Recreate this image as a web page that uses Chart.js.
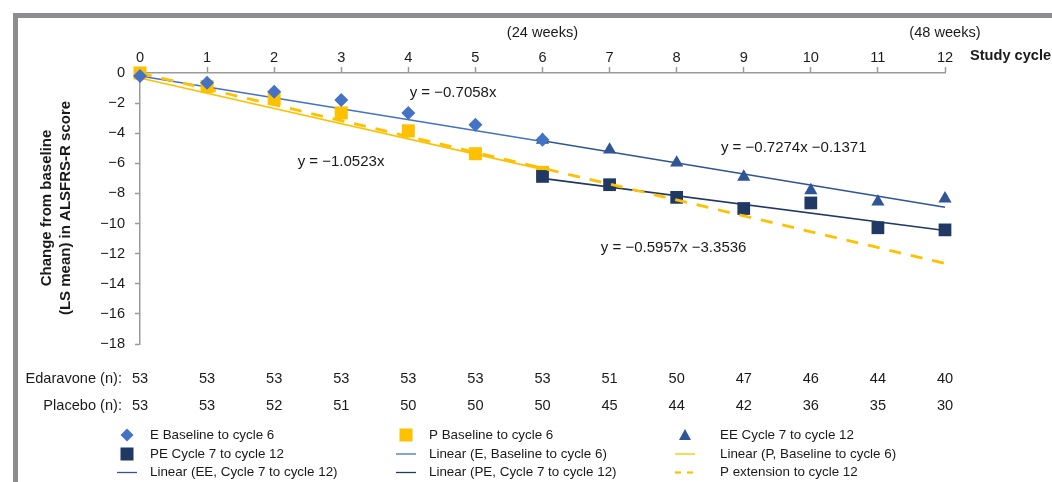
<!DOCTYPE html>
<html lang="en">
<head>
<meta charset="UTF-8">
<title>ALSFRS-R change from baseline</title>
<script src="https://cdn.jsdelivr.net/npm/chart.js"></script>
<style>
  body { margin: 0; background: #fff; }
  #wrap { position: relative; width: 1052px; height: 482px; overflow: hidden; }
  #frame { position: absolute; left: 13px; top: 13px; width: 1100px; height: 520px;
           border-top: 5px solid #8d8d91; border-left: 5px solid #8d8d91; }
  canvas { position: absolute; left: 0; top: 0; }
</style>
</head>
<body>
<div id="wrap">
  <div id="frame"></div>
  <canvas id="myChart" width="1052" height="482"></canvas>
</div>
<script>
// study cycles
const cycles = [0, 1, 2, 3, 4, 5, 6, 7, 8, 9, 10, 11, 12];
const firstHalf = [0, 1, 2, 3, 4, 5, 6];
const secondHalf = [6, 7, 8, 9, 10, 11, 12];

// LS mean change from baseline
const eBaseline = [-0.2, -0.64, -1.24, -1.79, -2.65, -3.44, -4.44];
const pBaseline = [0, -0.9, -1.7, -2.65, -3.84, -5.36, -6.6];
const eeCycle7to12 = [-4.44, -5.1, -5.96, -6.9, -7.8, -8.55, -8.35];
const peCycle7to12 = [-6.87, -7.42, -8.26, -9.0, -8.63, -10.28, -10.42];

// trend line end points (as drawn)
const eTrend = [-0.2, -4.55];
const pTrend = [-0.33, -6.4];
const eeTrend = [-4.5, -8.92];
const peTrend = [-7.0, -10.46];
const pExtension = [0, -12.65];

// patients at each cycle
const edaravoneN = [53, 53, 53, 53, 53, 53, 53, 51, 50, 47, 46, 44, 40];
const placeboN = [53, 53, 52, 51, 50, 50, 50, 45, 44, 42, 36, 35, 30];

// trend equations: [text, cycle, value]
const equations = [
    ['y = \u22120.7058x', 4.02, -1.32],
    ['y = \u22121.0523x', 2.35, -5.9],
    ['y = \u22120.7274x \u22120.1371', 8.66, -4.97],
    ['y = \u22120.5957x \u22123.3536', 6.87, -11.6]
];

const FONT = "'Liberation Sans', Arial, Helvetica, sans-serif";
const BLUE = '#4472c4';
const DARKBLUE = '#2f5597';
const NAVY = '#1f3864';
const GOLD = '#ffc000';

function pts(xs, ys) {
    return ys.map((v, i) => ({ x: xs[i], y: v }));
}
function minus(v) {
    return v < 0 ? '\u2212' + Math.abs(v) : String(v);
}

function markerSet(label, xs, ys, style, color, radius, order) {
    return {
        label: label, data: pts(xs, ys), showLine: false,
        pointStyle: style, pointRadius: radius, pointHoverRadius: radius,
        backgroundColor: color, borderColor: color, pointBorderWidth: 0,
        clip: false, order: order
    };
}
function lineSet(label, xs, ys, color, width, dash, order) {
    return {
        label: label, data: pts(xs, ys), showLine: true, pointRadius: 0,
        borderColor: color, backgroundColor: color, borderWidth: width,
        borderDash: dash, clip: false, order: order
    };
}

const ends1 = [0, 6];
const ends2 = [6, 12];
const datasets = [
    markerSet('E Baseline to cycle 6', firstHalf, eBaseline, 'rectRot', BLUE, 7, 0),
    markerSet('P Baseline to cycle 6', firstHalf, pBaseline, 'rect', GOLD, 9.2, 4),
    markerSet('EE Cycle 7 to cycle 12', secondHalf, eeCycle7to12, 'triangle', DARKBLUE, 7.6, 1),
    markerSet('PE Cycle 7 to cycle 12', secondHalf, peCycle7to12, 'rect', NAVY, 9, 3),
    lineSet('Linear (E, Baseline to cycle 6)', ends1, eTrend, BLUE, 1.6, [], 6),
    lineSet('Linear (P, Baseline to cycle 6)', ends1, pTrend, GOLD, 1.6, [], 6),
    lineSet('Linear (EE, Cycle 7 to cycle 12)', ends2, eeTrend, DARKBLUE, 1.6, [], 6),
    lineSet('Linear (PE, Cycle 7 to cycle 12)', ends2, peTrend, NAVY, 1.6, [], 6),
    lineSet('P extension to cycle 12', [0, 12], pExtension, GOLD, 2.8, [12, 10], 2)
];

function drawMarker(ctx, ds, x, y) {
    ctx.save();
    ctx.fillStyle = ds.backgroundColor;
    ctx.strokeStyle = ds.borderColor;
    if (ds.showLine) {
        ctx.lineWidth = ds.borderDash.length ? 2.2 : 1.3;
        ctx.setLineDash(ds.borderDash.length ? [6, 6] : []);
        ctx.beginPath();
        ctx.moveTo(x - 10, y);
        ctx.lineTo(x + 10, y);
        ctx.stroke();
    } else if (ds.pointStyle === 'rectRot') {
        ctx.beginPath();
        ctx.moveTo(x, y - 6.5); ctx.lineTo(x + 6.5, y); ctx.lineTo(x, y + 6.5); ctx.lineTo(x - 6.5, y);
        ctx.closePath(); ctx.fill();
    } else if (ds.pointStyle === 'triangle') {
        ctx.beginPath();
        ctx.moveTo(x, y - 6); ctx.lineTo(x + 6, y + 5); ctx.lineTo(x - 6, y + 5);
        ctx.closePath(); ctx.fill();
    } else {
        ctx.fillRect(x - 6.5, y - 6.5, 13, 13);
    }
    ctx.restore();
}

const extras = {
    id: 'extras',
    afterDraw(chart) {
        const ctx = chart.ctx;
        const xs = chart.scales.x;
        const ys = chart.scales.y;
        ctx.save();
        ctx.fillStyle = '#1a1a1a';

        // week labels above the axis
        ctx.font = '14.6px ' + FONT;
        ctx.textAlign = 'center';
        ctx.textBaseline = 'middle';
        ctx.fillText('(24 weeks)', xs.getPixelForValue(6), 33);
        ctx.fillText('(48 weeks)', xs.getPixelForValue(12), 33);

        ctx.font = 'bold 14.6px ' + FONT;
        ctx.textAlign = 'left';
        ctx.fillText('Study cycle', 970, 56);

        // y title
        ctx.save();
        ctx.font = 'bold 15px ' + FONT;
        ctx.translate(56.5, 208);
        ctx.rotate(-Math.PI / 2);
        ctx.textAlign = 'center';
        ctx.fillText('Change from baseline', 0, -9.5);
        ctx.fillText('(LS mean) in ALSFRS-R score', 0, 9.5);
        ctx.restore();

        // equations
        ctx.font = '15px ' + FONT;
        ctx.textAlign = 'left';
        equations.forEach(([t, cx, cy]) => {
            ctx.fillText(t, xs.getPixelForValue(cx), ys.getPixelForValue(cy));
        });

        // n table
        ctx.font = '14.6px ' + FONT;
        ctx.textAlign = 'right';
        ctx.fillText('Edaravone (n):', 122, 379);
        ctx.fillText('Placebo (n):', 122, 406);
        ctx.textAlign = 'center';
        cycles.forEach((c, i) => {
            const px = xs.getPixelForValue(c);
            ctx.fillText(String(edaravoneN[i]), px, 379);
            ctx.fillText(String(placeboN[i]), px, 406);
        });

        // legend, 3 columns
        const colMarker = [127, 406, 685];
        const colText = [150, 429, 720];
        const rowY = [435, 454, 472.5];
        ctx.font = '13.4px ' + FONT;
        ctx.textAlign = 'left';
        chart.data.datasets.forEach((ds, i) => {
            const col = i % 3, row = Math.floor(i / 3);
            drawMarker(ctx, ds, colMarker[col], rowY[row]);
            ctx.fillStyle = '#1a1a1a';
            ctx.fillText(ds.label, colText[col], rowY[row]);
        });
        ctx.restore();
    }
};

const ctx = document.getElementById('myChart').getContext('2d');
const myChart = new Chart(ctx, {
    type: 'scatter',
    data: { datasets: datasets },
    options: {
        responsive: false,
        animation: false,
        layout: { padding: { left: 0, top: 0, right: 107, bottom: 138 } },
        plugins: { legend: { display: false }, tooltip: { enabled: false } },
        scales: {
            x: {
                type: 'linear', position: 'top', min: 0, max: 12,
                ticks: { stepSize: 1, color: '#1a1a1a', font: { family: FONT, size: 14.6 }, padding: 0 },
                grid: { drawOnChartArea: false, tickLength: 6, color: '#9a9a9a', tickWidth: 1.5 },
                border: { color: '#9a9a9a', width: 1.5 },
                afterFit: s => { s.height = 73; }
            },
            y: {
                min: -18, max: 0,
                ticks: { stepSize: 2, color: '#1a1a1a', font: { family: FONT, size: 14.6 }, padding: 10,
                         callback: v => minus(v) },
                grid: { drawOnChartArea: false, tickLength: 5, color: '#9a9a9a', tickWidth: 1.5 },
                border: { color: '#9a9a9a', width: 1.5 },
                afterFit: s => { s.width = 140; }
            }
        }
    },
    plugins: [extras]
});
</script>
</body>
</html>
